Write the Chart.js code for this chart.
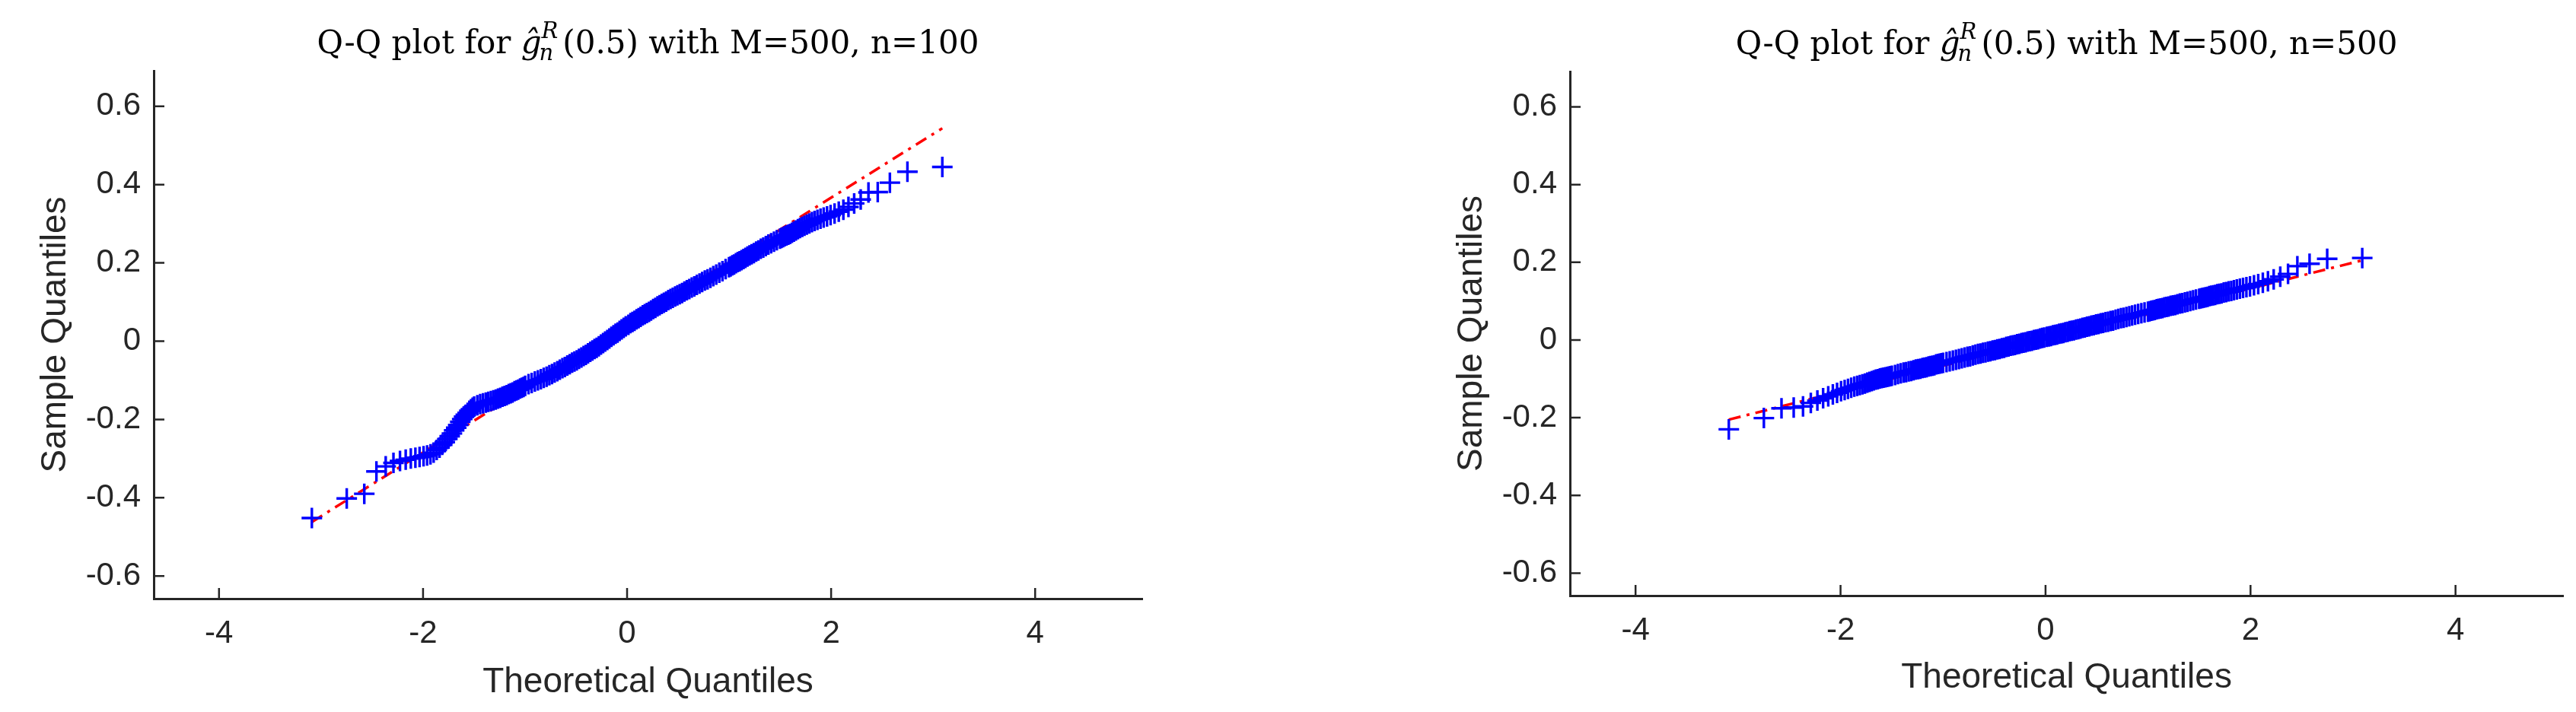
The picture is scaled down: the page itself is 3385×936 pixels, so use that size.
<!DOCTYPE html>
<html>
<head>
<meta charset="utf-8">
<script src="https://cdn.jsdelivr.net/npm/chart.js@4.4.1/dist/chart.umd.min.js"></script>
<style>
  html, body { margin: 0; padding: 0; background: #fff; }
  body { width: 3385px; height: 936px; position: relative; overflow: hidden; }
  canvas { position: absolute; top: 0; }
  #qqLeft { left: 0; }
  #qqRight { left: 1692px; }
</style>
</head>
<body>
<canvas id="qqLeft" width="1692" height="936"></canvas>
<canvas id="qqRight" width="1693" height="936"></canvas>
<script>
// theoretical normal quantiles (shared by both panels, M=500)
const theoretical = [
  -3.090, -2.748, -2.576, -2.457, -2.366, -2.290, -2.226, -2.170, -2.120, -2.075,
  -2.034, -1.995, -1.960, -1.927, -1.896, -1.866, -1.838, -1.812, -1.787, -1.762,
  -1.739, -1.717, -1.695, -1.675, -1.655, -1.635, -1.616, -1.598, -1.581, -1.563,
  -1.546, -1.530, -1.514, -1.499,
  -1.468, -1.440, -1.412, -1.385, -1.360, -1.335, -1.311, -1.287, -1.265, -1.243,
  -1.221, -1.200, -1.180, -1.160, -1.141, -1.122, -1.103, -1.085, -1.067, -1.049,
  -1.032, -1.015, -0.999,
  -0.966, -0.935, -0.904, -0.874, -0.845, -0.817, -0.789, -0.762, -0.736, -0.710,
  -0.684, -0.659, -0.634, -0.610, -0.586, -0.562, -0.539, -0.516, -0.493, -0.471,
  -0.448, -0.426, -0.404, -0.383, -0.361, -0.340, -0.319, -0.298, -0.277, -0.256,
  -0.235, -0.215, -0.194, -0.174, -0.154, -0.133, -0.113, -0.093, -0.073, -0.053,
  -0.033, -0.013,
  0.013, 0.033, 0.053, 0.073, 0.093, 0.113, 0.133, 0.154, 0.174, 0.194,
  0.215, 0.235, 0.256, 0.277, 0.298, 0.319, 0.340, 0.361, 0.383, 0.404,
  0.426, 0.448, 0.471, 0.493, 0.516, 0.539, 0.562, 0.586, 0.610, 0.634,
  0.659, 0.684, 0.710, 0.736, 0.762, 0.789, 0.817, 0.845, 0.874, 0.904,
  0.935, 0.966,
  0.999, 1.015, 1.032, 1.049, 1.067, 1.085, 1.103, 1.122, 1.141, 1.160,
  1.180, 1.200, 1.221, 1.243, 1.265, 1.287, 1.311, 1.335, 1.360, 1.385,
  1.412, 1.440, 1.468,
  1.499, 1.514, 1.530, 1.546, 1.563, 1.581, 1.598, 1.616, 1.635, 1.655,
  1.675, 1.695, 1.717, 1.739, 1.762, 1.787, 1.812, 1.838, 1.866, 1.896,
  1.927, 1.960, 1.995, 2.034, 2.075, 2.120, 2.170, 2.226, 2.290, 2.366,
  2.457, 2.576, 2.748, 3.090
];

// sample quantiles, n=100
const sampleN100 = [
  -0.452, -0.402, -0.390, -0.333, -0.320, -0.311, -0.306, -0.303, -0.300, -0.298,
  -0.296, -0.294, -0.292, -0.289, -0.285, -0.278, -0.272, -0.265, -0.258, -0.250,
  -0.243, -0.236, -0.228, -0.221, -0.214, -0.206, -0.199, -0.193, -0.188, -0.183,
  -0.178, -0.174, -0.170, -0.167,
  -0.164, -0.161, -0.159, -0.157, -0.155, -0.153, -0.151, -0.149, -0.147, -0.145,
  -0.142, -0.140, -0.138, -0.135, -0.133, -0.131, -0.128, -0.126, -0.124, -0.121,
  -0.119, -0.117, -0.114,
  -0.110, -0.107, -0.103, -0.100, -0.097, -0.094, -0.091, -0.087, -0.084, -0.080,
  -0.077, -0.073, -0.069, -0.066, -0.062, -0.059, -0.055, -0.052, -0.049, -0.045,
  -0.042, -0.038, -0.035, -0.031, -0.027, -0.024, -0.020, -0.017, -0.013, -0.009,
  -0.005, -0.001, 0.003, 0.007, 0.011, 0.015, 0.019, 0.022, 0.026, 0.030,
  0.034, 0.038,
  0.042, 0.046, 0.049, 0.052, 0.056, 0.059, 0.062, 0.066, 0.069, 0.072,
  0.075, 0.078, 0.082, 0.085, 0.089, 0.092, 0.095, 0.098, 0.101, 0.105,
  0.108, 0.111, 0.114, 0.117, 0.120, 0.123, 0.127, 0.130, 0.133, 0.137,
  0.140, 0.144, 0.147, 0.151, 0.155, 0.158, 0.162, 0.166, 0.170, 0.175,
  0.179, 0.184,
  0.189, 0.191, 0.194, 0.196, 0.199, 0.202, 0.204, 0.207, 0.210, 0.213,
  0.216, 0.219, 0.222, 0.225, 0.229, 0.232, 0.236, 0.239, 0.243, 0.247,
  0.250, 0.254, 0.258,
  0.262, 0.264, 0.266, 0.268, 0.270, 0.272, 0.274, 0.277, 0.280, 0.283,
  0.286, 0.289, 0.292, 0.295, 0.298, 0.301, 0.304, 0.307, 0.310, 0.313,
  0.316, 0.319, 0.322, 0.326, 0.331, 0.336, 0.343, 0.352, 0.362, 0.380,
  0.381, 0.405, 0.433, 0.445
];

// sample quantiles, n=500
const sampleN500 = [
  -0.230, -0.201, -0.176, -0.174, -0.171, -0.162, -0.156, -0.150, -0.145, -0.140,
  -0.136, -0.132, -0.129, -0.126, -0.123, -0.120, -0.118, -0.116, -0.114, -0.112,
  -0.110, -0.108, -0.106, -0.104, -0.102, -0.101, -0.099, -0.098, -0.097, -0.096,
  -0.095, -0.094, -0.093, -0.092,
  -0.090, -0.088, -0.086, -0.084, -0.083, -0.081, -0.080, -0.078, -0.076, -0.075,
  -0.074, -0.072, -0.071, -0.070, -0.068, -0.067, -0.066, -0.065, -0.063, -0.062,
  -0.061, -0.060, -0.059,
  -0.057, -0.055, -0.053, -0.051, -0.049, -0.047, -0.045, -0.043, -0.042, -0.040,
  -0.038, -0.036, -0.035, -0.033, -0.032, -0.030, -0.029, -0.027, -0.026, -0.024,
  -0.023, -0.021, -0.020, -0.018, -0.017, -0.015, -0.014, -0.013, -0.011, -0.010,
  -0.008, -0.007, -0.006, -0.004, -0.003, -0.002, 0.000, 0.001, 0.002, 0.004,
  0.005, 0.006,
  0.008, 0.009, 0.010, 0.012, 0.013, 0.014, 0.016, 0.017, 0.018, 0.020,
  0.021, 0.023, 0.024, 0.025, 0.027, 0.028, 0.029, 0.031, 0.032, 0.034,
  0.035, 0.037, 0.038, 0.040, 0.041, 0.043, 0.044, 0.046, 0.047, 0.049,
  0.050, 0.052, 0.054, 0.056, 0.057, 0.059, 0.061, 0.063, 0.065, 0.067,
  0.069, 0.071,
  0.073, 0.074, 0.075, 0.076, 0.077, 0.079, 0.080, 0.081, 0.082, 0.084,
  0.085, 0.086, 0.088, 0.089, 0.090, 0.092, 0.094, 0.095, 0.097, 0.098,
  0.100, 0.102, 0.104,
  0.106, 0.107, 0.108, 0.109, 0.110, 0.111, 0.113, 0.114, 0.115, 0.116,
  0.118, 0.119, 0.120, 0.122, 0.123, 0.125, 0.126, 0.128, 0.130, 0.132,
  0.134, 0.136, 0.138, 0.141, 0.144, 0.147, 0.151, 0.156, 0.163, 0.170,
  0.190, 0.196, 0.209, 0.211
];

// reference lines (red dash-dot)
const refLineX = [-3.09, 3.09];
const refLineN100 = [-0.462, 0.544];
const refLineN500 = [-0.205, 0.205];

const xTicks = [-4, -2, 0, 2, 4];
const yTicks = [-0.6, -0.4, -0.2, 0, 0.2, 0.4, 0.6];
const xRange = [-4.64, 5.05];
const yRange = [-0.658, 0.691];

const titleHead = 'Q-Q plot for ';
const titleTailN100 = '(0.5) with M=500, n=100';
const titleTailN500 = '(0.5) with M=500, n=500';

const AXIS_COLOR = '#262626';

Chart.defaults.font.family = '"Liberation Sans", Arial, sans-serif';
Chart.defaults.color = AXIS_COLOR;

// inward tick marks + LaTeX-ish title
const qqDecor = {
    id: 'qqDecor',
    afterDraw(chart, args, opts) {
        const ctx = chart.ctx;
        const area = chart.chartArea;
        const xs = chart.scales.x;
        const ys = chart.scales.y;

        ctx.save();
        ctx.strokeStyle = AXIS_COLOR;
        ctx.lineWidth = 2.5;
        ctx.beginPath();
        xs.ticks.forEach(t => {
            const px = xs.getPixelForValue(t.value);
            ctx.moveTo(px, area.bottom);
            ctx.lineTo(px, area.bottom - 14);
        });
        ys.ticks.forEach(t => {
            const py = ys.getPixelForValue(t.value);
            ctx.moveTo(area.left, py);
            ctx.lineTo(area.left + 14, py);
        });
        ctx.stroke();

        // title: Q-Q plot for g-hat_n^R (0.5) with ...
        const serif = '"DejaVu Serif", "Liberation Serif", serif';
        const fBig = '42px ' + serif;
        const fIt = 'italic 42px ' + serif;
        const fSmall = 'italic 29px ' + serif;
        ctx.fillStyle = '#000';
        ctx.textBaseline = 'alphabetic';
        ctx.textAlign = 'left';

        ctx.font = fBig;
        const wHead = ctx.measureText(titleHead).width;
        const wTail = ctx.measureText(opts.tail).width;
        ctx.font = fIt;
        const wG = ctx.measureText('ĝ').width;
        ctx.font = fSmall;
        const wScript = Math.max(ctx.measureText('R').width, ctx.measureText('n').width);
        const gap = 6;
        const total = wHead + wG + wScript + gap + wTail;

        let x = (area.left + area.right) / 2 - total / 2;
        const base = opts.baseline;
        ctx.font = fBig;
        ctx.fillText(titleHead, x, base);
        x += wHead;
        ctx.font = fIt;
        ctx.fillText('ĝ', x, base);
        x += wG;
        ctx.font = fSmall;
        ctx.fillText('R', x, base - 20);
        ctx.fillText('n', x - 3, base + 9);
        x += wScript + gap;
        ctx.font = fBig;
        ctx.fillText(opts.tail, x, base);
        ctx.restore();
    }
};

function buildChart(id, sample, lineY, tail, box) {
    const points = theoretical.map((x, i) => ({ x: x, y: sample[i] }));
    const line = refLineX.map((x, i) => ({ x: x, y: lineY[i] }));

    return new Chart(document.getElementById(id), {
        type: 'scatter',
        data: {
            datasets: [
                {
                    data: points,
                    pointStyle: 'cross',
                    pointRadius: 13.5,
                    pointBorderWidth: 3.4,
                    borderColor: '#0000ff',
                    backgroundColor: '#0000ff'
                },
                {
                    type: 'line',
                    data: line,
                    showLine: true,
                    fill: false,
                    borderColor: '#ff0000',
                    borderWidth: 3.5,
                    borderDash: [16, 8, 4, 8],
                    pointRadius: 0
                }
            ]
        },
        options: {
            responsive: false,
            animation: false,
            events: [],
            layout: { padding: { left: box.left, right: box.right, top: box.top, bottom: 0 } },
            plugins: {
                legend: { display: false },
                tooltip: { enabled: false },
                qqDecor: { tail: tail, baseline: box.titleBaseline }
            },
            scales: {
                x: {
                    type: 'linear',
                    min: xRange[0],
                    max: xRange[1],
                    afterBuildTicks: a => { a.ticks = xTicks.map(v => ({ value: v })); },
                    afterFit: a => { a.height = box.xAxisHeight; },
                    grid: { display: false, drawTicks: false },
                    border: { display: true, color: AXIS_COLOR, width: 3 },
                    ticks: { font: { size: 42 }, padding: 21, color: AXIS_COLOR, callback: v => String(v) },
                    title: {
                        display: true,
                        text: 'Theoretical Quantiles',
                        color: AXIS_COLOR,
                        font: { size: 46 },
                        padding: { top: 0, bottom: box.xTitlePad }
                    }
                },
                y: {
                    type: 'linear',
                    min: yRange[0],
                    max: yRange[1],
                    afterBuildTicks: a => { a.ticks = yTicks.map(v => ({ value: v })); },
                    afterFit: a => { a.width = 202; },
                    grid: { display: false, drawTicks: false },
                    border: { display: true, color: AXIS_COLOR, width: 3 },
                    ticks: {
                        font: { size: 42 },
                        padding: 17,
                        color: AXIS_COLOR,
                        callback: v => (v === 0 ? '0' : v.toFixed(1))
                    },
                    title: {
                        display: true,
                        text: 'Sample Quantiles',
                        color: AXIS_COLOR,
                        font: { size: 46 },
                        padding: { top: 46, bottom: 0 }
                    }
                }
            }
        },
        plugins: [qqDecor]
    });
}

buildChart('qqLeft', sampleN100, refLineN100, titleTailN100,
    { left: 0, right: 191, top: 93, xAxisHeight: 149, xTitlePad: 11, titleBaseline: 70 });
buildChart('qqRight', sampleN500, refLineN500, titleTailN500,
    { left: 169, right: 16, top: 94, xAxisHeight: 153, xTitlePad: 17, titleBaseline: 71 });
</script>
</body>
</html>
